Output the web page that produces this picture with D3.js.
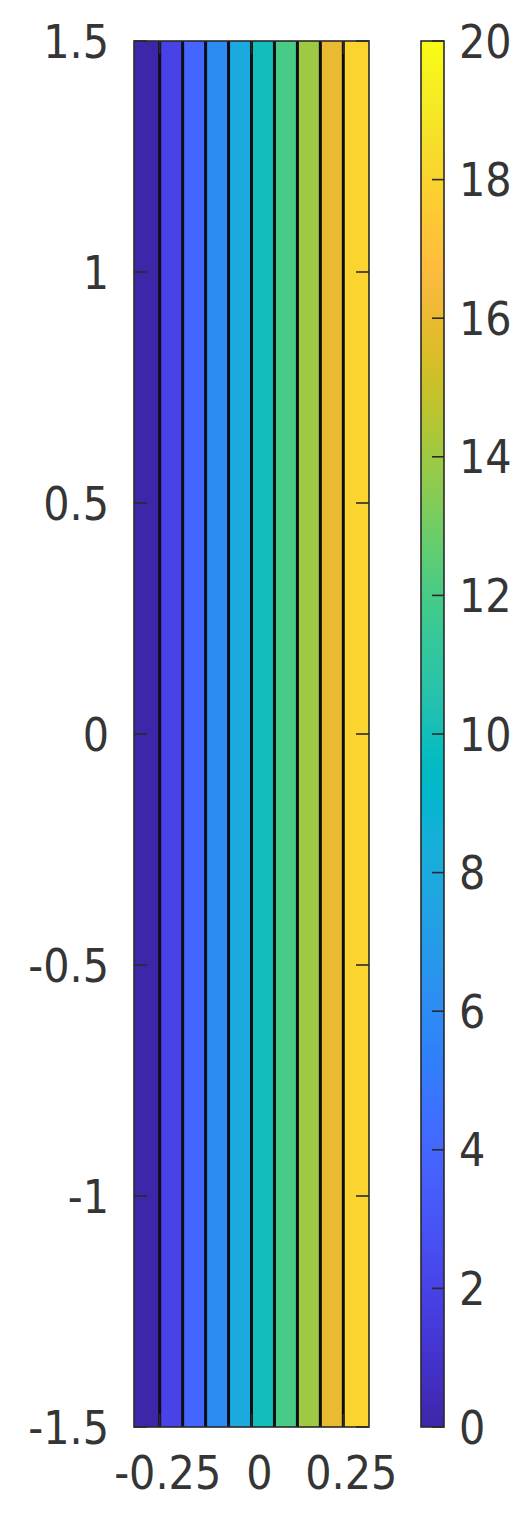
<!DOCTYPE html>
<html>
<head>
<meta charset="utf-8">
<script src="https://cdn.jsdelivr.net/npm/d3@7"></script>
<style>
  html, body { margin: 0; padding: 0; background: #fff; }
  svg { display: block; }
  .lbl { font-family: "DejaVu Sans Condensed", "DejaVu Sans", sans-serif; font-stretch: condensed; font-size: 46px; fill: #353535; }
</style>
</head>
<body>
<svg id="chart" width="530" height="1516"></svg>
<script>
// ---------- data ----------
const xExtent = [-0.32, 0.32];
const yExtent = [-1.5, 1.5];
const zExtent = [0, 20];
const bandLevels = [0, 2, 4, 6, 8, 10, 12, 14, 16, 18];          // lower level of each filled band
const contourLevels = [2, 4, 6, 8, 10, 12, 14, 16, 18];
const contourX = [-0.25, -0.1875, -0.125, -0.0625, 0.0, 0.0625, 0.125, 0.1875, 0.25]; // x where z hits each level
const xTicks = [-0.25, 0, 0.25];
const yTicks = [-1.5, -1, -0.5, 0, 0.5, 1, 1.5];
const cbTicks = [0, 2, 4, 6, 8, 10, 12, 14, 16, 18, 20];

// parula colormap (64 entries)
const parulaMap = [
[0.2422,0.1504,0.6603],[0.2504,0.1650,0.7076],[0.2578,0.1818,0.7511],[0.2647,0.1978,0.7952],
[0.2706,0.2147,0.8364],[0.2751,0.2342,0.8710],[0.2783,0.2559,0.8991],[0.2803,0.2782,0.9221],
[0.2813,0.3006,0.9414],[0.2810,0.3228,0.9579],[0.2795,0.3447,0.9717],[0.2760,0.3667,0.9829],
[0.2699,0.3892,0.9906],[0.2602,0.4123,0.9952],[0.2440,0.4358,0.9988],[0.2206,0.4603,0.9973],
[0.1963,0.4847,0.9892],[0.1834,0.5074,0.9798],[0.1786,0.5289,0.9682],[0.1764,0.5499,0.9520],
[0.1687,0.5703,0.9359],[0.1540,0.5902,0.9218],[0.1460,0.6091,0.9079],[0.1380,0.6276,0.8973],
[0.1248,0.6459,0.8883],[0.1113,0.6635,0.8763],[0.0952,0.6798,0.8598],[0.0689,0.6948,0.8394],
[0.0297,0.7082,0.8163],[0.0036,0.7203,0.7917],[0.0067,0.7312,0.7660],[0.0433,0.7411,0.7394],
[0.0964,0.7500,0.7120],[0.1408,0.7584,0.6842],[0.1717,0.7670,0.6554],[0.1938,0.7758,0.6251],
[0.2161,0.7843,0.5923],[0.2470,0.7918,0.5567],[0.2906,0.7973,0.5188],[0.3406,0.8008,0.4789],
[0.3909,0.8029,0.4354],[0.4456,0.8024,0.3909],[0.5044,0.7993,0.3480],[0.5616,0.7942,0.3045],
[0.6174,0.7876,0.2612],[0.6720,0.7793,0.2227],[0.7242,0.7698,0.1910],[0.7738,0.7598,0.1646],
[0.8203,0.7498,0.1535],[0.8634,0.7406,0.1596],[0.9035,0.7330,0.1774],[0.9393,0.7288,0.2100],
[0.9728,0.7298,0.2394],[0.9956,0.7434,0.2371],[0.9970,0.7659,0.2199],[0.9952,0.7893,0.2028],
[0.9892,0.8136,0.1885],[0.9786,0.8386,0.1766],[0.9676,0.8639,0.1643],[0.9610,0.8890,0.1537],
[0.9597,0.9135,0.1423],[0.9628,0.9373,0.1265],[0.9691,0.9606,0.1064],[0.9769,0.9839,0.0805]
];

// ---------- layout ----------
const plot = { left: 134, right: 369, top: 41, bottom: 1427 };
const cb = { left: 421, right: 444 };

const parulaColors = parulaMap.map(c => d3.rgb(c[0]*255, c[1]*255, c[2]*255).formatHex());
const parula = d3.scaleLinear()
  .domain(d3.range(parulaColors.length).map(i => zExtent[0] + (zExtent[1]-zExtent[0]) * i / (parulaColors.length - 1)))
  .range(parulaColors)
  .interpolate(d3.interpolateRgb)
  .clamp(true);

const x = d3.scaleLinear().domain(xExtent).range([plot.left, plot.right]);
const y = d3.scaleLinear().domain(yExtent).range([plot.bottom, plot.top]);
const cy = d3.scaleLinear().domain(zExtent).range([plot.bottom, plot.top]);

const svg = d3.select("#chart");
const fmt = d => String(d);

// ---------- filled bands ----------
const edges = [xExtent[0], ...contourX, xExtent[1]];
const bands = bandLevels.map((lv, i) => ({ lv, x0: edges[i], x1: edges[i+1] }));
svg.append("g").selectAll("rect").data(bands).join("rect")
  .attr("x", d => x(d.x0))
  .attr("width", d => x(d.x1) - x(d.x0))
  .attr("y", y(yExtent[1]))
  .attr("height", y(yExtent[0]) - y(yExtent[1]))
  .attr("fill", d => parula(d.lv));

// ---------- contour lines ----------
svg.append("g").selectAll("line").data(contourLevels.map((lv, i) => ({ lv, xv: contourX[i] }))).join("line")
  .attr("x1", d => x(d.xv)).attr("x2", d => x(d.xv))
  .attr("y1", y(yExtent[1])).attr("y2", y(yExtent[0]))
  .attr("stroke", "#0d0d14").attr("stroke-width", 3);

// ---------- frame & ticks ----------
svg.append("rect")
  .attr("x", plot.left).attr("y", plot.top)
  .attr("width", plot.right - plot.left).attr("height", plot.bottom - plot.top)
  .attr("fill", "none").attr("stroke", "#2a2a2a").attr("stroke-width", 1.6);

const tickLen = 13;
const yt = svg.append("g");
yt.selectAll("line.l").data(yTicks).join("line").attr("class", "l")
  .attr("x1", plot.left).attr("x2", plot.left + tickLen)
  .attr("y1", d => y(d)).attr("y2", d => y(d))
  .attr("stroke", "#2a2a2a").attr("stroke-width", 1.6);
yt.selectAll("line.r").data(yTicks).join("line").attr("class", "r")
  .attr("x1", plot.right).attr("x2", plot.right - tickLen)
  .attr("y1", d => y(d)).attr("y2", d => y(d))
  .attr("stroke", "#2a2a2a").attr("stroke-width", 1.6);
const xt = svg.append("g");
xt.selectAll("line.b").data(xTicks).join("line").attr("class", "b")
  .attr("x1", d => x(d)).attr("x2", d => x(d))
  .attr("y1", plot.bottom).attr("y2", plot.bottom - tickLen)
  .attr("stroke", "#2a2a2a").attr("stroke-width", 1.6);
xt.selectAll("line.t").data(xTicks).join("line").attr("class", "t")
  .attr("x1", d => x(d)).attr("x2", d => x(d))
  .attr("y1", plot.top).attr("y2", plot.top + tickLen)
  .attr("stroke", "#2a2a2a").attr("stroke-width", 1.6);

// tick labels
svg.append("g").selectAll("text").data(yTicks).join("text")
  .attr("class", "lbl")
  .attr("x", plot.left - 25)
  .attr("y", d => y(d))
  .attr("dy", "0.36em")
  .attr("text-anchor", "end")
  .text(fmt);

svg.append("g").selectAll("text").data(xTicks).join("text")
  .attr("class", "lbl")
  .attr("x", d => x(d) + 8)
  .attr("y", plot.bottom + 45)
  .attr("dy", "0.36em")
  .attr("text-anchor", "middle")
  .text(fmt);

// ---------- colorbar ----------
const grad = svg.append("defs").append("linearGradient")
  .attr("id", "parulaGrad").attr("x1", 0).attr("y1", 1).attr("x2", 0).attr("y2", 0);
grad.selectAll("stop").data(parulaColors).join("stop")
  .attr("offset", (d, i) => i / (parulaColors.length - 1))
  .attr("stop-color", d => d);

svg.append("rect")
  .attr("x", cb.left).attr("y", cy(zExtent[1]))
  .attr("width", cb.right - cb.left).attr("height", cy(zExtent[0]) - cy(zExtent[1]))
  .attr("fill", "url(#parulaGrad)")
  .attr("stroke", "#2a2a2a").attr("stroke-width", 1.6);

svg.append("g").selectAll("line").data(cbTicks).join("line")
  .attr("x1", cb.right).attr("x2", cb.right - 12)
  .attr("y1", d => cy(d)).attr("y2", d => cy(d))
  .attr("stroke", "#2a2a2a").attr("stroke-width", 1.6);

svg.append("g").selectAll("text").data(cbTicks).join("text")
  .attr("class", "lbl")
  .attr("x", cb.right + 15)
  .attr("y", d => cy(d))
  .attr("dy", "0.36em")
  .attr("text-anchor", "start")
  .text(fmt);
</script>
</body>
</html>
